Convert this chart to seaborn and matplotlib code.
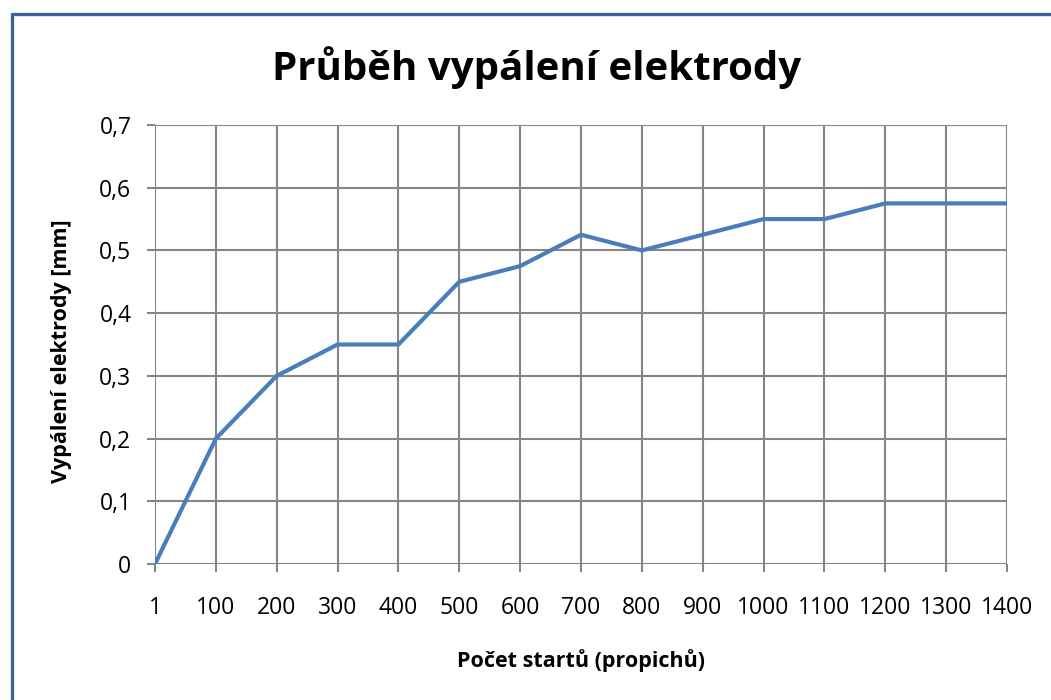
import numpy as np
import pandas as pd
import matplotlib
matplotlib.use("Agg")
import matplotlib.pyplot as plt
from matplotlib.lines import Line2D
import seaborn as sns

starts = ["1", "100", "200", "300", "400", "500", "600", "700",
          "800", "900", "1000", "1100", "1200", "1300", "1400"]
burn_mm = [0.0, 0.2, 0.3, 0.35, 0.35, 0.45, 0.475, 0.525,
           0.5, 0.525, 0.55, 0.55, 0.575, 0.575, 0.575]
y_ticks = [0.0, 0.1, 0.2, 0.3, 0.4, 0.5, 0.6, 0.7]
y_labels = ["0", "0,1", "0,2", "0,3", "0,4", "0,5", "0,6", "0,7"]

sns.set_theme(style="white")
plt.rcParams["font.family"] = ["Open Sans", "DejaVu Sans"]
plt.rcParams["text.color"] = "black"
plt.rcParams["axes.labelcolor"] = "black"

GRID = "#868686"
df = pd.DataFrame({"idx": np.arange(len(starts)), "burn": burn_mm})

fig = plt.figure(figsize=(10.51, 7.0), dpi=100)
ax = fig.add_axes([155 / 1051, 1 - 564 / 700, (1007 - 155) / 1051, (564 - 125) / 700])

sns.lineplot(data=df, x="idx", y="burn", ax=ax, color="#4a7ebb", linewidth=3.0, zorder=3)

ax.set_xlim(0, len(starts) - 1)
ax.set_ylim(0, 0.7)
ax.set_xticks(df["idx"])
ax.set_xticklabels(starts)
ax.set_yticks(y_ticks)
ax.set_yticklabels(y_labels)
ax.grid(True, color=GRID, linewidth=1.5)
for s in ax.spines.values():
    s.set_visible(False)
ax.tick_params(axis="both", direction="out", length=6, width=1.5, color=GRID,
               labelsize=16.5, labelcolor="black", bottom=True, left=True)
ax.tick_params(axis="y", pad=11)
ax.tick_params(axis="x", pad=17)

ax.set_xlabel("Počet startů (propichů)", fontsize=15.5, fontweight="bold", va="center")
ax.xaxis.set_label_coords(0.5, (564 - 661) / 439)
ax.set_ylabel("Vypálení elektrody [mm]", fontsize=15.5, fontweight="bold", va="center")
ax.yaxis.set_label_coords((62 - 155) / 852, (564 - 351) / 439)

fig.text(537 / 1051, 1 - 68 / 700, "Průběh vypálení elektrody", ha="center", va="center",
         fontsize=29, fontweight="bold")

# outer chart-area border (left and top edges visible)
bc = "#3a6494"
fig.add_artist(Line2D([12 / 1051, 12 / 1051], [0, 1 - 14 / 700], color=bc, linewidth=2.4,
                      transform=fig.transFigure))
fig.add_artist(Line2D([12 / 1051, 1], [1 - 14 / 700, 1 - 14 / 700], color=bc, linewidth=2.4,
                      transform=fig.transFigure))

fig.savefig("out.png", dpi=100)
